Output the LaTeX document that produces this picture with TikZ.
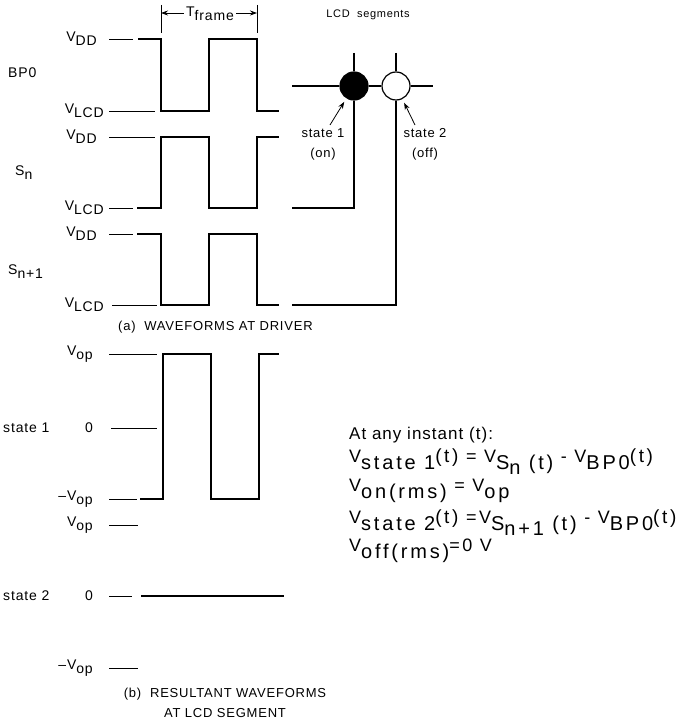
\documentclass[tikz,border=0pt]{standalone}
\usepackage{fontspec}
\setmainfont{Liberation Sans}[LetterSpace=6]
\usepackage{tikz}
\usetikzlibrary{arrows, arrows.meta, positioning}
\newcommand{\lblfont}{\fontsize{14}{16}\selectfont}
\newcommand{\smfont}{\fontsize{13}{20}\selectfont}
\newcommand{\eqfont}{\fontsize{17}{20}\selectfont}
\newcommand{\eqwide}{\fontsize{18}{20}\selectfont\addfontfeatures{LetterSpace=14}}
\newcommand{\lo}[2][4pt]{\raisebox{-#1}{#2}}
\newcommand{\eqsub}[1]{\raisebox{-7pt}{\fontsize{20}{22}\selectfont #1}}
\newcommand{\targ}{{\fontsize{19}{21}\selectfont(t)}}
\tikzstyle{lbl} = [font=\lblfont, inner sep=0pt]
\tikzstyle{sml} = [font=\smfont, inner sep=0pt]
\tikzstyle{eqn} = [font=\eqfont, inner sep=0pt, anchor=base west]
\tikzstyle{eqnw} = [eqn, font=\eqwide]
\tikzstyle{wavef} = [line width=1.9pt]
\tikzstyle{lvl} = [line width=0.7pt]
\tikzstyle{wire} = [line width=1.1pt]
\tikzstyle{seg} = [circle, draw=black, line width=1.2pt, minimum size=28pt, inner sep=0pt]
\tikzstyle{pointer} = [line width=0.8pt,->,>={Stealth[length=7pt,width=5pt]}]
\begin{document}
\begin{tikzpicture}[x=1pt, y=-1pt]
            \useasboundingbox (0,0) rectangle (686,727);
            % Signal names
            \node (bpname) [lbl, anchor=west] at (8,73) {BP0};
            \node (snname) [lbl, anchor=west] at (15,173) {S\lo{n}};
            \node (snnname) [lbl, anchor=west] at (8,272) {S\lo{n+1}};
            \node (stonename) [lbl, anchor=west] at (3,428) {state 1};
            \node (sttwoname) [lbl, anchor=west] at (3,596) {state 2};

            % Level labels
            \node (bpdd) [lbl, anchor=east] at (97,39) {V\lo{DD}};
            \node (bplcd) [lbl, anchor=east] at (104,111) {V\lo{LCD}};
            \node (sndd) [lbl, anchor=east] at (97,137) {V\lo{DD}};
            \node (snlcd) [lbl, anchor=east] at (104,208) {V\lo{LCD}};
            \node (snndd) [lbl, anchor=east] at (97,234) {V\lo{DD}};
            \node (snnlcd) [lbl, anchor=east] at (104,305) {V\lo{LCD}};
            \node (onehi) [lbl, anchor=east] at (93,354) {V\lo{op}};
            \node (onezero) [lbl, anchor=east] at (93,428) {0};
            \node (onelo) [lbl, anchor=east] at (93,499) {–V\lo{op}};
            \node (twohi) [lbl, anchor=east] at (93,525) {V\lo{op}};
            \node (twozero) [lbl, anchor=east] at (93,596) {0};
            \node (twolo) [lbl, anchor=east] at (93,668) {–V\lo{op}};

            % Level ticks
            \draw [lvl] (109,39) -- (133,39);
            \draw [lvl] (109,111) -- (155,111);
            \draw [lvl] (109,137) -- (155,137);
            \draw [lvl] (109,208) -- (133,208);
            \draw [lvl] (109,234) -- (133,234);
            \draw [lvl] (112,305) -- (157,305);
            \draw [lvl] (109,354) -- (157,354);
            \draw [lvl] (111,428) -- (157,428);
            \draw [lvl] (109,499) -- (137,499);
            \draw [lvl] (109,525) -- (138,525);
            \draw [lvl] (109,596) -- (132,596);
            \draw [lvl] (109,668) -- (138,668);

            % Waveforms
            \draw [wavef] (138,39) -- (161,39) -- (161,111) -- (209,111) -- (209,39) -- (257,39) -- (257,111) -- (279,111);
            \draw [wavef] (137,208) -- (161,208) -- (161,137) -- (209,137) -- (209,208) -- (257,208) -- (257,137) -- (279,137);
            \draw [wavef] (137,234) -- (161,234) -- (161,305) -- (209,305) -- (209,234) -- (257,234) -- (257,305) -- (279,305);
            \draw [wavef] (140,499) -- (163,499) -- (163,354) -- (211,354) -- (211,499) -- (259,499) -- (259,354) -- (279,354);
            \draw [wavef] (141,596) -- (284,596);

            % Frame period
            \node (tframe) [lbl] at (210,14) {T\lo{frame}};
            \coordinate (tfleft) at (161,13);
            \coordinate (tfright) at (257,13);
            \draw [lvl] (161,5) -- (161,33);
            \draw [lvl] (257,5) -- (257,33);
            \draw [pointer, shorten <=2pt] (tframe.west |- tfleft) -- (tfleft);
            \draw [pointer, shorten <=2pt] (tframe.east |- tfright) -- (tfright);

            % LCD segments
            \node (lcdtitle) [font=\fontsize{11}{13}\selectfont, inner sep=0pt] at (368,15) {LCD\ \ segments};
            \node (on) [seg, fill=black] at (354,86) {};
            \node (off) [seg, fill=white] at (396,86) {};
            \coordinate (bpin) at (292,86);
            \coordinate (bpout) at (433,86);
            \coordinate (ontop) at (354,53);
            \coordinate (offtop) at (396,53);
            \coordinate (snin) at (292,208);
            \coordinate (snnin) at (292,305);
            \draw [wire] (bpin) -- (on);
            \draw [wire] (on) -- (off);
            \draw [wire] (off) -- (bpout);
            \draw [wire] (ontop) -- (on);
            \draw [wire] (offtop) -- (off);
            \draw [wire] (on) |- (snin);
            \draw [wire] (off) |- (snnin);

            \node (stone) [sml, align=center] at (323,144) {state 1\\(on)};
            \node (sttwo) [sml, align=center] at (425,144) {state 2\\(off)};
            \coordinate (stonetail) at (330,125);
            \coordinate (sttwotail) at (415,125);
            \draw [pointer, shorten >=4pt] (stonetail) -- (on);
            \draw [pointer, shorten >=4pt] (sttwotail) -- (off);

            % Captions
            \node (capa) [sml, anchor=west] at (118,327) {(a)\ \ WAVEFORMS AT DRIVER};
            \node (capb) [sml, align=center] at (225,703) {(b)\ \ RESULTANT WAVEFORMS\\AT LCD SEGMENT};

            % Equations
            \node (instant) [eqn] at (349,439) {At any instant (t):};
            \node (eqone) [eqnw] at (349,462) {V\eqsub{state 1}\targ{} = V\eqsub{S\lo[5pt]{n}\ (t)} - V\eqsub{BP0}\targ};
            \node (eqon) [eqnw] at (349,491) {V\eqsub{on(rms)} = V\eqsub{op}};
            \node (eqtwo) [eqnw] at (349,523) {V\eqsub{state 2}\targ{} =V\eqsub{S\lo[5pt]{n+1}\ (t)} - V\eqsub{BP0}\targ};
            \node (eqoff) [eqnw] at (349,551) {V\eqsub{off(rms)}=0 V};
        \end{tikzpicture}
\end{document}
